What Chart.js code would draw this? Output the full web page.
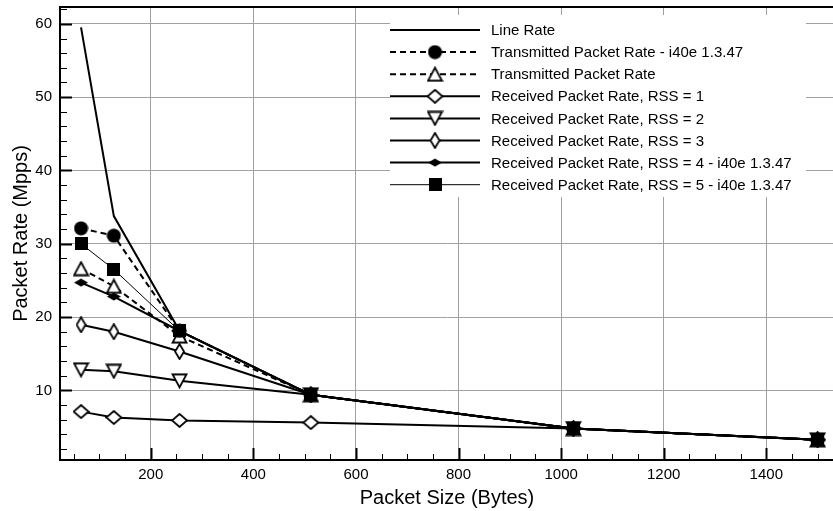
<!DOCTYPE html>
<html lang="en">
<head>
  <meta charset="UTF-8" />
  <title>Packet Rate vs Packet Size</title>
  <script src="https://cdn.jsdelivr.net/npm/chart.js"></script>
  <style>
    html, body { margin: 0; padding: 0; background: #fff; overflow: hidden; }
    canvas { display: block; }
  </style>
</head>
<body>
  <canvas id="rateChart" width="840" height="511"></canvas>

  <script>
    // packet sizes (bytes) and rates (Mpps)
    const sizes = [64, 128, 256, 512, 1024, 1500];
    const lineRate = [59.52, 33.78, 18.12, 9.40, 4.79, 3.25];
    const txI40e = [32.1, 31.1, 18.1, 9.4, 4.79, 3.25];
    const txRate = [26.6, 24.2, 17.4, 9.4, 4.79, 3.25];
    const rss1 = [7.1, 6.3, 5.9, 5.6, 4.79, 3.25];
    const rss2 = [12.8, 12.6, 11.3, 9.4, 4.79, 3.25];
    const rss3 = [18.95, 18.0, 15.3, 9.4, 4.79, 3.25];
    const rss4 = [24.7, 22.8, 18.1, 9.4, 4.79, 3.25];
    const rss5 = [30.0, 26.5, 18.1, 9.4, 4.79, 3.25];

    const xTicks = [200, 400, 600, 800, 1000, 1200, 1400];
    const yTicks = [10, 20, 30, 40, 50, 60];

    const FONT = "'Liberation Sans', Arial, Helvetica, sans-serif";

    // little canvases used as point markers
    function marker(w, h, draw) {
      const c = document.createElement('canvas');
      c.width = w; c.height = h;
      const g = c.getContext('2d');
      g.lineWidth = 1.8;
      g.strokeStyle = '#000';
      g.fillStyle = '#000';
      draw(g);
      return c;
    }
    function poly(g, pts, open) {
      g.beginPath();
      g.moveTo(pts[0][0], pts[0][1]);
      for (let i = 1; i < pts.length; i++) g.lineTo(pts[i][0], pts[i][1]);
      g.closePath();
      if (open) { g.fillStyle = '#fff'; g.fill(); g.stroke(); }
      else g.fill();
    }

    const mCircle = marker(15, 15, g => { g.beginPath(); g.arc(7.5, 7.5, 7, 0, Math.PI * 2); g.fill(); });
    const mTriUp = marker(17, 16, g => poly(g, [[8.5, 1.5], [15.5, 14.5], [1.5, 14.5]], true));
    const mTriDown = marker(17, 16, g => poly(g, [[1.5, 1.5], [15.5, 1.5], [8.5, 14.5]], true));
    const mDiamond = marker(17, 15, g => poly(g, [[8.5, 1], [16, 7.5], [8.5, 14], [1, 7.5]], true));
    const mDiamondTall = marker(11, 17, g => poly(g, [[5.5, 1], [10, 8.5], [5.5, 16], [1, 8.5]], true));
    const mDiamondFlat = marker(14, 9, g => poly(g, [[7, 0.5], [14, 4.5], [7, 8.5], [0, 4.5]], false));
    const mSquare = marker(13, 13, g => g.fillRect(0, 0, 13, 13));

    function pts(vals) { return sizes.map((s, i) => ({ x: s, y: vals[i] })); }

    const datasets = [
      { label: 'Line Rate', data: pts(lineRate), borderWidth: 2, pointRadius: 0 },
      { label: 'Transmitted Packet Rate - i40e 1.3.47', data: pts(txI40e), borderWidth: 2, borderDash: [6, 4], pointStyle: mCircle },
      { label: 'Transmitted Packet Rate', data: pts(txRate), borderWidth: 2, borderDash: [6, 4], pointStyle: mTriUp },
      { label: 'Received Packet Rate, RSS = 1', data: pts(rss1), borderWidth: 2, pointStyle: mDiamond },
      { label: 'Received Packet Rate, RSS = 2', data: pts(rss2), borderWidth: 2, pointStyle: mTriDown },
      { label: 'Received Packet Rate, RSS = 3', data: pts(rss3), borderWidth: 2, pointStyle: mDiamondTall },
      { label: 'Received Packet Rate, RSS = 4 - i40e 1.3.47', data: pts(rss4), borderWidth: 2, pointStyle: mDiamondFlat },
      { label: 'Received Packet Rate, RSS = 5 - i40e 1.3.47', data: pts(rss5), borderWidth: 1, pointStyle: mSquare, order: -1 }
    ];
    datasets.forEach(d => { d.borderColor = '#000'; d.backgroundColor = '#000'; d.tension = 0; });

    // legend box, frame and inward tick marks
    const framePlugin = {
      id: 'frame',
      beforeDatasetsDraw(chart) {
        const ctx = chart.ctx;
        const a = chart.chartArea;
        const xs = chart.scales.x, ys = chart.scales.y;
        ctx.save();
        ctx.strokeStyle = '#000';
        // x ticks
        for (let v = 50; v <= 1500; v += 50) {
          const px = Math.round(xs.getPixelForValue(v)) + 0.5;
          const major = v % 200 === 0;
          ctx.lineWidth = major ? 2 : 1;
          ctx.beginPath();
          ctx.moveTo(px, a.bottom);
          ctx.lineTo(px, a.bottom - (major ? 12 : 6));
          ctx.stroke();
        }
        // y ticks
        for (let v = 2; v <= 62; v += 2) {
          const py = Math.round(ys.getPixelForValue(v)) + 0.5;
          const major = v % 10 === 0;
          ctx.lineWidth = major ? 2 : 1;
          ctx.beginPath();
          ctx.moveTo(a.left, py);
          ctx.lineTo(a.left + (major ? 12 : 7), py);
          ctx.stroke();
        }
        // top border
        ctx.lineWidth = 2;
        ctx.beginPath();
        ctx.moveTo(a.left, a.top);
        ctx.lineTo(a.right, a.top);
        ctx.stroke();

        // legend
        ctx.fillStyle = '#fff';
        ctx.fillRect(390, 15, 416, 182);
        ctx.font = '15px ' + FONT;
        ctx.textBaseline = 'middle';
        ctx.textAlign = 'left';
        chart.data.datasets.forEach((d, i) => {
          const y = 30 + i * 22.1;
          ctx.strokeStyle = '#000';
          ctx.lineWidth = d.borderWidth;
          ctx.setLineDash(d.borderDash || []);
          ctx.beginPath();
          ctx.moveTo(390, y);
          ctx.lineTo(480, y);
          ctx.stroke();
          ctx.setLineDash([]);
          if (d.pointStyle) {
            const m = d.pointStyle;
            ctx.drawImage(m, 435 - m.width / 2, y - m.height / 2);
          }
          ctx.fillStyle = '#000';
          ctx.fillText(d.label, 491, y + 1);
        });
        ctx.restore();
      }
    };

    new Chart(document.getElementById('rateChart'), {
      type: 'line',
      data: { datasets: datasets },
      options: {
        responsive: false,
        animation: false,
        layout: { padding: { top: 7, left: 0, right: 0, bottom: 0 } },
        plugins: { legend: { display: false }, tooltip: { enabled: false } },
        scales: {
          x: {
            type: 'linear',
            min: 23,
            max: 1532,
            afterBuildTicks: s => { s.ticks = xTicks.map(v => ({ value: v })); },
            afterFit: s => { s.height = 51; s.paddingLeft = 0; s.paddingRight = 0; },
            grid: { color: '#a0a0a0', lineWidth: 1, drawTicks: false },
            border: { display: true, color: '#000', width: 2 },
            ticks: { color: '#000', padding: 6, maxRotation: 0, font: { family: FONT, size: 15 }, callback: v => String(v) },
            title: { display: true, text: 'Packet Size (Bytes)', color: '#000', padding: { top: 0, bottom: 1 }, font: { family: FONT, size: 20 } }
          },
          y: {
            type: 'linear',
            min: 0.5,
            max: 62.3,
            afterBuildTicks: s => { s.ticks = yTicks.map(v => ({ value: v })); },
            afterFit: s => { s.width = 60; s.paddingTop = 0; s.paddingBottom = 0; },
            grid: { color: '#a0a0a0', lineWidth: 1, drawTicks: false },
            border: { display: true, color: '#000', width: 2 },
            ticks: { color: '#000', padding: 8, font: { family: FONT, size: 15 }, callback: v => String(v) },
            title: { display: true, text: 'Packet Rate (Mpps)', color: '#000', padding: { top: 9, bottom: 0 }, font: { family: FONT, size: 20 } }
          }
        }
      },
      plugins: [framePlugin]
    });
  </script>
</body>
</html>
